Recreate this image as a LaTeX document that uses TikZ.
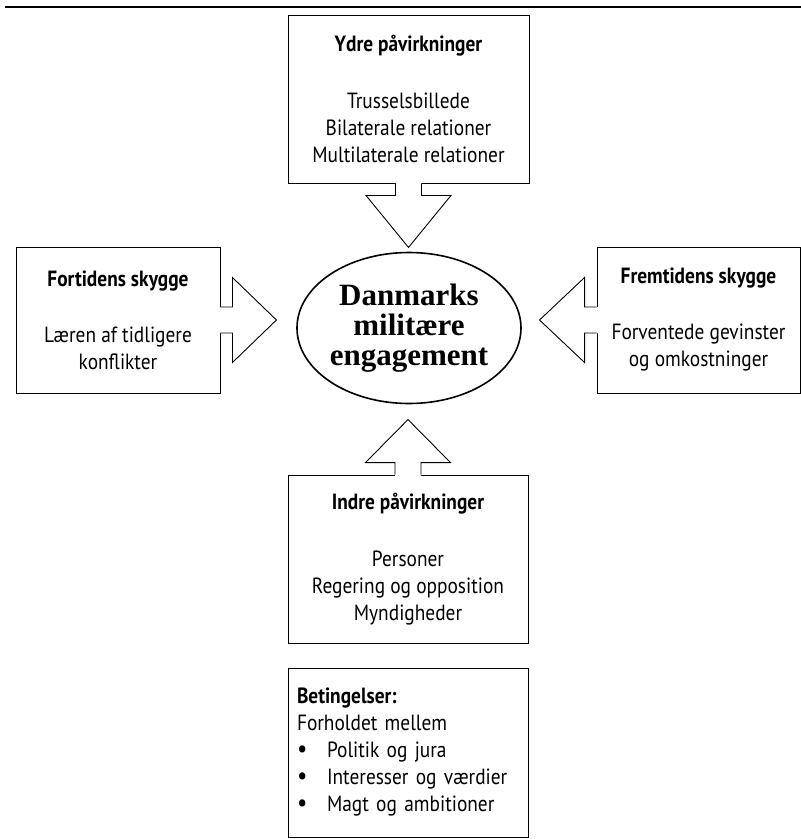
\documentclass[tikz,border=0pt]{standalone}
\usepackage{fontspec}
\setmainfont{PT Sans}[FakeStretch=0.88]
\newfontfamily\ellipsefont{Liberation Serif}
\usetikzlibrary{shapes.geometric}

\tikzset{
  factorbox/.style={draw, line width=0.9pt, align=center, inner sep=0pt,
    font=\fontsize{22}{27}\selectfont},
  arrowline/.style={line width=0.9pt, line join=miter},
}

% block arrow: base point, direction, head length
\newcommand\blockarrow[3]{%
  \begin{scope}[shift={(#1)}, rotate=#2]
    \fill[white] (-2,-13) -- (12,-13) -- (12,-42.5) -- ({12+#3},0) -- (12,42.5) -- (12,13) -- (-2,13) -- cycle;
    \draw[arrowline] (0,-13) -- (12,-13) -- (12,-42.5) -- ({12+#3},0) -- (12,42.5) -- (12,13) -- (0,13);
  \end{scope}}
\newcommand\bulletitem{\makebox[30pt][l]{\smash{\fontsize{26}{27}\selectfont\textbullet}}}

\begin{document}
\begin{tikzpicture}[x=1pt, y=-1pt]
\useasboundingbox (0,0) rectangle (801,839);

\draw[line width=1.6pt] (5,7) -- (801,7);

% the four factors
\node[factorbox, minimum width=241, minimum height=168] (ydre) at (408.5,99)
  {{\bfseries Ydre påvirkninger}\\[30pt] Trusselsbillede\\ Bilaterale relationer\\ Multilaterale relationer};
\node[factorbox, minimum width=204, minimum height=146] (fortid) at (118,320)
  {{\bfseries Fortidens skygge}\\[29pt] Læren af tidligere\\ konflikter};
\node[factorbox, minimum width=203, minimum height=146] (fremtid) at (698.5,320)
  {{\bfseries Fremtidens skygge}\\[29pt] Forventede gevinster\\ og omkostninger};
\node[factorbox, minimum width=240, minimum height=168] (indre) at (408,559)
  {{\bfseries Indre påvirkninger}\\[30pt] Personer\\ Regering og opposition\\ Myndigheder};

% centre
\node[draw, ellipse, line width=1.6pt, minimum width=222, minimum height=151, inner sep=0pt,
  align=center, font=\ellipsefont\bfseries\fontsize{31}{30}\selectfont] (dme) at (409,328)
  {Danmarks\\ militære\\ engagement};

\blockarrow{ydre.south}{-90}{52}
\blockarrow{fortid.east}{0}{44}
\blockarrow{fremtid.west}{180}{45}
\blockarrow{indre.north}{90}{43}

% conditions
\node[factorbox, align=left, inner xsep=9pt, text width=222, minimum height=169] (beting) at (408,752.5)
  {{\bfseries Betingelser:}\\ Forholdet mellem\\
   \bulletitem Politik og jura\\
   \bulletitem Interesser og værdier\\
   \bulletitem Magt og ambitioner};
\end{tikzpicture}
\end{document}
